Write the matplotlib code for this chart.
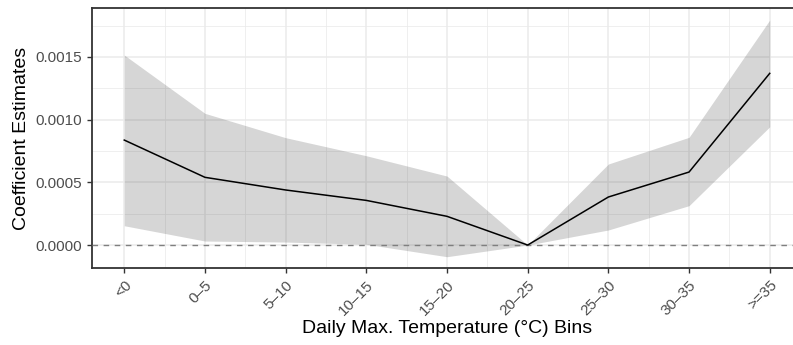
import numpy as np
import matplotlib
matplotlib.use("Agg")
import matplotlib.pyplot as plt
from matplotlib.ticker import MultipleLocator, FormatStrFormatter

plt.rcParams['font.family'] = ['Liberation Sans', 'DejaVu Sans']

bins = ['<0', '0–5', '5–10', '10–15', '15–20', '20–25', '25–30', '30–35', '>=35']
estimate = [0.000837, 0.000540, 0.000439, 0.000356, 0.000229, 0.0, 0.000383, 0.000582, 0.001369]
upper = [0.001515, 0.001050, 0.000856, 0.000712, 0.000550, 0.0, 0.000646, 0.000859, 0.001794]
lower = [0.000154, 0.000032, 0.000024, 0.000006, -0.000093, 0.0, 0.000120, 0.000314, 0.000943]

x = np.arange(1, len(bins) + 1)

fig = plt.figure(figsize=(7.93, 3.45), dpi=100)
# panel runs a little past the right edge, as in the source
ax = fig.add_axes([92 / 793, 77 / 345, 710 / 793, 260 / 345])

ax.set_xlim(0.6, 9.4)
ax.set_ylim(-0.000183, 0.00189)

ax.yaxis.set_major_locator(MultipleLocator(0.0005))
ax.yaxis.set_minor_locator(MultipleLocator(0.00025))
ax.yaxis.set_major_formatter(FormatStrFormatter('%.4f'))
ax.set_xticks(x)
ax.set_xticks(x[:-1] + 0.5, minor=True)
ax.set_xticklabels(bins, rotation=45, ha='right', va='top', rotation_mode='anchor')

ax.grid(which='major', color='#EBEBEB', linewidth=1.1, zorder=0)
ax.grid(which='minor', color='#EBEBEB', linewidth=0.55, zorder=0)
ax.set_axisbelow(True)

ax.fill_between(x, lower, upper, color='#333333', alpha=0.2, linewidth=0, zorder=2)
ax.axhline(0, color='#7F7F7F', linestyle=(0, (4, 4)), linewidth=1.0, zorder=3)
ax.plot(x, estimate, color='black', linewidth=1.1, zorder=4)

for s in ax.spines.values():
    s.set_color('#333333')
    s.set_linewidth(1.3)

ax.tick_params(which='major', length=3.5, width=1.0, color='#333333', labelcolor='#4D4D4D', labelsize=11)
ax.tick_params(which='minor', length=0)

ax.set_xlabel('Daily Max. Temperature (°C) Bins', fontsize=14, color='black', labelpad=2)
ax.set_ylabel('Coefficient Estimates', fontsize=14, color='black', labelpad=4)

fig.savefig('out.png', dpi=100)
